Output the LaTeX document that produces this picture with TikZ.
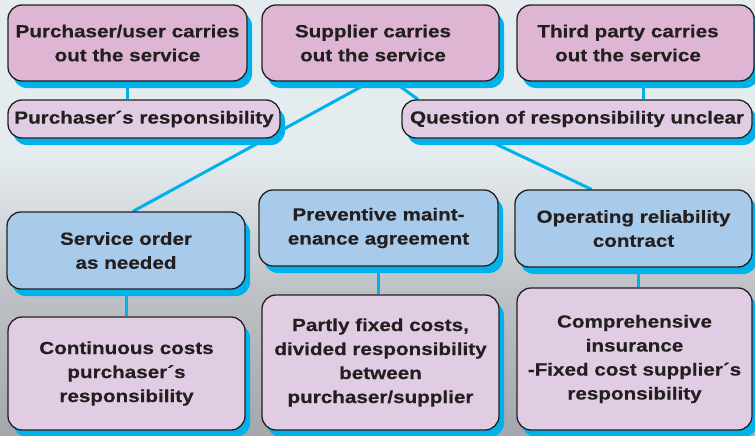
\documentclass[tikz,border=0pt]{standalone}
\usepackage{fontspec}
\setmainfont{Liberation Sans}[FakeStretch=1.18, BoldFeatures={FakeBold=0.5}]
\usetikzlibrary{shadows}
\definecolor{bgtop}{RGB}{229,236,239}
\definecolor{bgmid}{RGB}{190,194,198}
\definecolor{bgbot}{RGB}{164,167,171}
\definecolor{lineblue}{RGB}{0,178,236}
\definecolor{pinkbox}{RGB}{222,182,211}
\definecolor{lilacbox}{RGB}{225,205,227}
\definecolor{bluebox}{RGB}{169,203,235}
\definecolor{inkgray}{RGB}{35,31,32}
\pgfdeclareverticalshading{bgshade}{100bp}{color(0bp)=(bgbot); color(25bp)=(bgbot); color(42bp)=(bgmid); color(57bp)=(bgtop); color(100bp)=(bgtop)}
\pgfdeclarelayer{back}
\pgfdeclarelayer{lines}
\pgfsetlayers{back,lines,main}
\newcommand{\lpad}{\hspace*{15pt}}
\tikzset{
  card/.style={draw=inkgray, line width=1.3pt, rounded corners=14pt, align=center,
    inner sep=0pt, text=inkgray, font=\bfseries\fontsize{17.5}{24}\selectfont,
    drop shadow={shadow xshift=5pt, shadow yshift=-7pt, fill=lineblue, opacity=1}},
  pinkcard/.style={card, fill=pinkbox},
  lilaccard/.style={card, fill=lilacbox},
  bluecard/.style={card, fill=bluebox},
  link/.style={draw=lineblue, line width=3pt}
}
\begin{document}
\begin{tikzpicture}[x=1pt, y=-1pt]
        \useasboundingbox (0,0) rectangle (755,436);
        \clip (0,0) rectangle (755,436);
        \begin{pgfonlayer}{back}
        \shade[shading=bgshade] (0,0) rectangle (755,436);
        \end{pgfonlayer}
        % who carries out the service
        \node[pinkcard, minimum width=239pt, minimum height=76pt] (pu) at (127.5,43) {Purchaser/user carries\\out the service};
        \node[pinkcard, minimum width=237pt, minimum height=76pt] (sup) at (380.5,43) {Supplier carries\lpad\\out the service\lpad};
        \node[pinkcard, minimum width=237pt, minimum height=76pt] (tp) at (635.5,43) {Third party carries\lpad\\out the service\lpad};
        \node[lilaccard, minimum width=272pt, minimum height=38pt] (pr) at (144,119) {Purchaser´s responsibility};
        \node[lilaccard, minimum width=350pt, minimum height=38pt] (qu) at (577,119) {Question of responsibility unclear};
        % kind of agreement
        \node[bluecard, minimum width=238pt, minimum height=77pt] (so) at (126,250.5) {Service order\\as needed};
        \node[bluecard, minimum width=239pt, minimum height=76pt] (pm) at (378.5,228) {Preventive maint-\\enance agreement};
        \node[bluecard, minimum width=237pt, minimum height=77pt] (op) at (633.5,228.5) {Operating reliability\\contract};
        % costs
        \node[lilaccard, minimum width=237pt, minimum height=113pt] (cc) at (126.5,373.5) {Continuous costs\\purchaser´s\\responsibility};
        \node[lilaccard, minimum width=237pt, minimum height=135pt] (pf) at (380.5,362.5) {Partly fixed costs,\\divided responsibility\\between\\purchaser/supplier};
        \node[lilaccard, minimum width=235pt, minimum height=142pt] (ci) at (634.5,359) {Comprehensive\\insurance\\-Fixed cost supplier´s\\responsibility};
        \begin{pgfonlayer}{lines}
        \draw[link] (pu.south) -- (pu.south |- pr.north);
        \draw[link] ([xshift=-10pt]sup.south) -- ([xshift=7pt]so.north);
        \draw[link] ([xshift=13pt]sup.south) -- ([xshift=-159pt]qu.north);
        \draw[link] ([xshift=8pt]tp.south) -- ([xshift=8pt]tp.south |- qu.north);
        \draw[link] (qu.192) -- ([xshift=-42pt]op.north);
        \draw[link] (so.south) -- (so.south |- cc.north);
        \draw[link] (pm.south) -- (pm.south |- pf.north);
        \draw[link] ([xshift=5pt]op.south) -- ([xshift=5pt]op.south |- ci.north);
        \end{pgfonlayer}
\end{tikzpicture}
\end{document}
